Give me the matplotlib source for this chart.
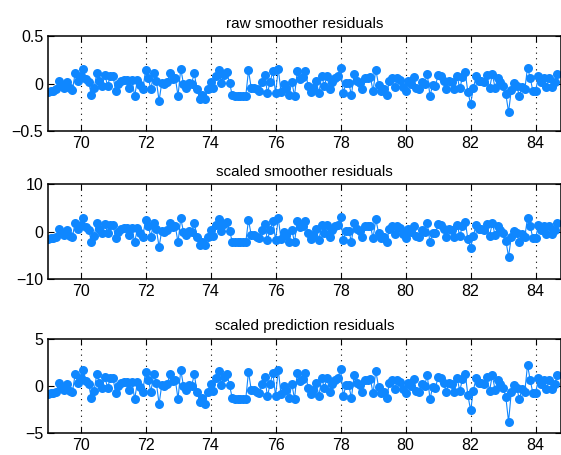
import numpy as np
import matplotlib
matplotlib.use('Agg')
import matplotlib.pyplot as plt

# monthly residuals, starting Jan 1969
start_year = 69.0

raw_resid = [
    -0.09, -0.08, -0.08, -0.06, 0.03, -0.02, -0.04, 0.02, -0.05, -0.07,
    0.11, 0.03, 0.08, 0.16, 0.05, 0.02, -0.12, -0.05, 0.11, 0.03,
    -0.02, 0.09, -0.02, 0.08, 0.08, -0.08, 0.00, 0.03, 0.04, 0.04,
    -0.04, 0.04, -0.13, 0.04, -0.01, -0.06, 0.14, 0.06, -0.06, 0.11,
    0.03, -0.18, 0.01, 0.00, 0.02, 0.11, 0.05, 0.06, -0.13, 0.16,
    0.00, -0.04, 0.01, 0.00, 0.11, -0.06, -0.16, -0.12, -0.16, -0.06,
    0.02, -0.05, 0.08, 0.15, 0.01, 0.09, 0.12, 0.01, -0.12, -0.13,
    -0.13, -0.13, -0.13, -0.13, 0.14, -0.04, -0.04, -0.06, -0.08, 0.02,
    0.09, -0.10, 0.02, 0.13, -0.10, 0.16, -0.09, 0.00, -0.04, -0.12,
    0.02, -0.13, 0.13, 0.05, 0.07, 0.13, -0.02, -0.09, -0.04, 0.03,
    -0.10, 0.08, -0.02, 0.08, -0.06, 0.02, 0.06, 0.08, 0.17, -0.10,
    0.01, 0.01, -0.12, 0.10, 0.03, 0.01, -0.06, 0.06, 0.06, 0.07,
    -0.08, 0.15, -0.01, -0.08, -0.06, -0.12, 0.03, 0.06, -0.03, 0.06,
    0.04, -0.03, -0.08, 0.03, 0.00, 0.07, -0.05, -0.06, 0.02, 0.00,
    0.10, -0.13, -0.01, -0.02, 0.09, 0.08, 0.03, -0.06, 0.03, 0.02,
    -0.06, 0.08, -0.05, 0.07, 0.12, -0.09, -0.21, -0.05, 0.08, 0.03,
    0.03, 0.02, 0.09, -0.05, 0.10, -0.04, 0.06, 0.02, -0.02, -0.11,
    -0.30, -0.07, 0.01, -0.02, -0.13, -0.03, -0.06, 0.17, 0.06, -0.08,
    -0.08, 0.08, 0.02, 0.06, -0.03, 0.06, -0.03, 0.02, 0.10,
]

scaled_smooth = [
    -1.6, -1.4, -1.4, -1.1, 0.5, -0.4, -0.7, 0.4, -0.9, -1.2,
    1.9, 0.5, 1.4, 2.8, 0.9, 0.4, -2.1, -0.9, 1.9, 0.5,
    -0.4, 1.6, -0.4, 1.4, 1.4, -1.4, 0.0, 0.5, 0.7, 0.7,
    -0.7, 0.7, -2.3, 0.7, -0.2, -1.1, 2.5, 1.1, -1.1, 1.9,
    0.5, -3.2, 0.2, 0.0, 0.4, 1.9, 0.9, 1.1, -2.3, 2.8,
    0.0, -0.7, 0.2, 0.0, 1.9, -1.1, -2.8, -2.1, -2.8, -1.1,
    0.4, -0.9, 1.4, 2.6, 0.2, 1.6, 2.1, 0.2, -2.1, -2.3,
    -2.3, -2.3, -2.3, -2.3, 2.5, -0.7, -0.7, -1.1, -1.4, 0.4,
    1.6, -1.8, 0.4, 2.3, -1.8, 2.8, -1.6, 0.0, -0.7, -2.1,
    0.4, -2.3, 2.3, 0.9, 1.2, 2.3, -0.4, -1.6, -0.7, 0.5,
    -1.8, 1.4, -0.4, 1.4, -1.1, 0.4, 1.1, 1.4, 3.0, -1.8,
    0.2, 0.2, -2.1, 1.8, 0.5, 0.2, -1.1, 1.1, 1.1, 1.2,
    -1.4, 2.6, -0.2, -1.4, -1.1, -2.1, 0.5, 1.1, -0.5, 1.1,
    0.7, -0.5, -1.4, 0.5, 0.0, 1.2, -0.9, -1.1, 0.4, 0.0,
    1.8, -2.3, -0.2, -0.4, 1.6, 1.4, 0.5, -1.1, 0.5, 0.4,
    -1.1, 1.4, -0.9, 1.2, 2.1, -1.6, -3.4, -0.9, 1.4, 0.5,
    0.5, 0.4, 1.6, -0.9, 1.8, -0.7, 1.1, 0.4, -0.4, -1.9,
    -5.3, -1.2, 0.2, -0.4, -2.3, -0.5, -1.1, 2.9, 1.1, -1.4,
    -1.4, 1.4, 0.4, 1.1, -0.5, 1.1, -0.5, 0.4, 1.8,
]

scaled_pred = [
    -0.9, -0.8, -0.8, -0.6, 0.3, -0.2, -0.4, 0.2, -0.5, -0.7,
    1.2, 0.3, 0.8, 1.7, 0.5, 0.2, -1.3, -0.5, 1.2, 0.3,
    -0.2, 0.9, -0.2, 0.8, 0.8, -0.8, 0.0, 0.3, 0.4, 0.4,
    -0.4, 0.4, -1.4, 0.4, -0.1, -0.6, 1.5, 0.6, -0.6, 1.2,
    0.3, -1.9, 0.1, 0.0, 0.2, 1.2, 0.5, 0.6, -1.4, 1.7,
    0.0, -0.4, 0.1, 0.0, 1.2, -0.6, -1.7, -1.3, -1.9, -0.6,
    0.2, -0.5, 0.8, 1.6, 0.1, 0.9, 1.3, 0.1, -1.3, -1.4,
    -1.4, -1.4, -1.4, -1.4, 1.5, -0.4, -0.4, -0.6, -0.8, 0.2,
    0.9, -1.1, 0.2, 1.4, -1.1, 1.7, -0.9, 0.0, -0.4, -1.3,
    0.2, -1.4, 1.4, 0.5, 0.7, 1.4, -0.2, -0.9, -0.4, 0.3,
    -1.1, 0.8, -0.2, 0.8, -0.6, 0.2, 0.6, 0.8, 1.8, -1.1,
    0.1, 0.1, -1.3, 1.1, 0.3, 0.1, -0.6, 0.6, 0.6, 0.7,
    -0.8, 1.6, -0.1, -0.8, -0.6, -1.3, 0.3, 0.6, -0.3, 0.6,
    0.4, -0.3, -0.8, 0.3, 0.0, 0.7, -0.5, -0.6, 0.2, 0.0,
    1.1, -1.4, -0.1, -0.2, 0.9, 0.8, 0.3, -0.6, 0.3, 0.2,
    -0.6, 0.8, -0.5, 0.7, 1.3, -1.0, -2.6, -0.5, 0.8, 0.3,
    0.3, 0.2, 0.9, -0.5, 1.1, -0.4, 0.6, 0.2, -0.2, -1.2,
    -3.8, -0.7, 0.1, -0.2, -1.4, -0.3, -0.6, 2.2, 0.6, -0.8,
    -0.8, 0.8, 0.2, 0.6, -0.3, 0.6, -0.3, 0.2, 1.1,
]

titles = ['raw smoother residuals', 'scaled smoother residuals',
          'scaled prediction residuals']
ylims = [(-0.5, 0.5), (-10, 10), (-5, 5)]
yticks = [[-0.5, 0, 0.5], [-10, 0, 10], [-5, 0, 5]]
yticklabels = [['\u22120.5', '0', '0.5'], ['\u221210', '0', '10'], ['\u22125', '0', '5']]
xticks = [70, 72, 74, 76, 78, 80, 82, 84]

plt.rcParams['font.family'] = ['Liberation Sans', 'DejaVu Sans']

t = start_year + np.arange(len(raw_resid)) / 12.0
series = [raw_resid, scaled_smooth, scaled_pred]

fig = plt.figure(figsize=(5.61, 4.55), dpi=100)
bottoms = [0.712, 0.387, 0.048]
color = '#0f87ff'

for k in range(3):
    ax = fig.add_axes([48 / 561, bottoms[k], 1 - 48 / 561, 0.208])
    ax.plot(t, series[k], '-o', color=color, linewidth=0.8,
            markersize=6.5, markeredgewidth=0)
    ax.set_xlim(69.0, 84.78)
    ax.set_ylim(*ylims[k])
    ax.set_xticks(xticks)
    ax.set_yticks(yticks[k])
    ax.set_yticklabels(yticklabels[k])
    ax.xaxis.grid(True, linestyle=(0, (1, 4)), color='black', linewidth=0.8)
    ax.tick_params(direction='in', top=True, right=True, labelsize=11.5,
                   length=4, width=0.8)
    for s in ax.spines.values():
        s.set_linewidth(1.1)
    ax.set_title(titles[k], fontsize=11, pad=6)

plt.savefig('out.png', dpi=100)
